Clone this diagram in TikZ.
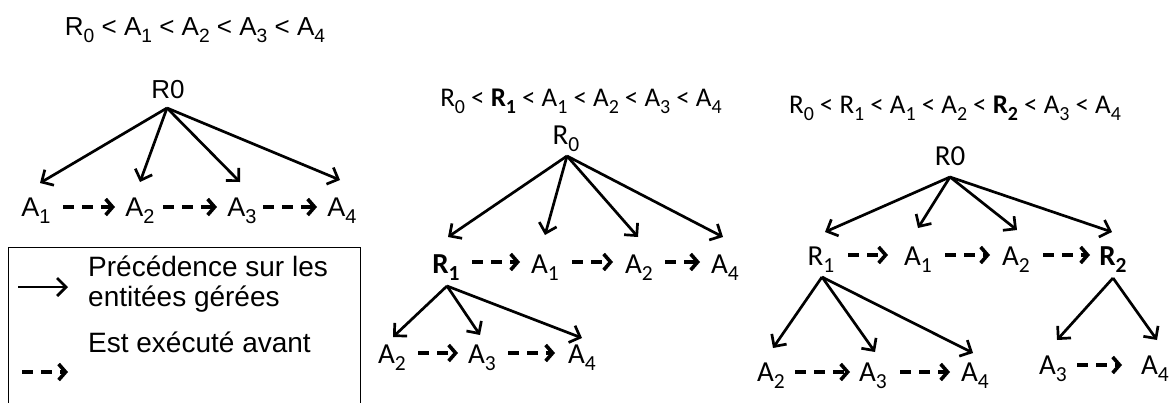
\documentclass[tikz,border=0pt]{standalone}
\usepackage{graphicx}
\usepackage{fontspec}
\setmainfont{Liberation Sans}
\newfontfamily\calfont{Carlito}
\usetikzlibrary{arrows.meta}
\tikzset{
  prec/.style={line width=2.7pt, -{Straight Barb[length=9pt,width=18pt]}},
  exec/.style={line width=3.6pt, dash pattern=on 11pt off 8pt, -{Straight Barb[length=7pt,width=16pt]}},
  ar/.style={font=\fontsize{27}{27}\selectfont, inner sep=0pt, anchor=base},
  cb/.style={font=\calfont\fontsize{29}{29}\selectfont, inner sep=0pt, anchor=base},
  legtext/.style={font=\fontsize{28}{28}\selectfont, inner sep=0pt, anchor=base west},
}
\newcommand\ssb[1]{\raisebox{-0.27em}{\scalebox{0.74}{#1}}}
\begin{document}
\begin{tikzpicture}[x=1pt,y=-1pt]
\useasboundingbox (0,0) rectangle (1169,402);
% ---------------- left ----------------
\node[ar, font=\fontsize{26}{26}\selectfont] (t1) at (195,35) {R\ssb{0} < A\ssb{1} < A\ssb{2} < A\ssb{3} < A\ssb{4}};
\node[ar, font=\fontsize{26}{26}\selectfont] (l0) at (168,98) {R0};
\node[ar] (la1) at (36,216) {A\ssb{1}};
\node[ar] (la2) at (140,216) {A\ssb{2}};
\node[ar] (la3) at (242,216) {A\ssb{3}};
\node[ar] (la4) at (342,216) {A\ssb{4}};
\draw[prec] ([xshift=-1pt,yshift=-10pt]l0.base) -- ([xshift=4pt,yshift=33pt]la1.base);
\draw[prec] ([xshift=-1pt,yshift=-10pt]l0.base) -- ([xshift=0pt,yshift=34pt]la2.base);
\draw[prec] ([xshift=-1pt,yshift=-10pt]l0.base) -- ([xshift=-2pt,yshift=34pt]la3.base);
\draw[prec] ([xshift=-1pt,yshift=-10pt]l0.base) -- ([xshift=-2pt,yshift=36pt]la4.base);
\draw[exec] ([xshift=27pt,yshift=9pt]la1.base) -- ([xshift=-25pt,yshift=9pt]la2.base);
\draw[exec] ([xshift=23pt,yshift=9pt]la2.base) -- ([xshift=-25pt,yshift=9pt]la3.base);
\draw[exec] ([xshift=21pt,yshift=9pt]la3.base) -- ([xshift=-25pt,yshift=9pt]la4.base);
% ---------------- legend ----------------
\node[draw, line width=1pt, anchor=north west, minimum width=352pt, minimum height=170pt, inner sep=0pt] (leg) at (8,247) {};
\node[legtext] (lt1) at (88,276) {Précédence sur les};
\node[legtext] (lt2) at (88,306) {entitées gérées};
\node[legtext] (lt3) at (88,352) {Est exécuté avant};
\coordinate (ls1) at (18,287);
\coordinate (le1) at (68,287);
\coordinate (ls2) at (22,372);
\coordinate (le2) at (68,372);
\draw[prec] (ls1) -- (le1);
\draw[exec] (ls2) -- (le2);
% ---------------- middle ----------------
\node[cb, font=\calfont\fontsize{27}{27}\selectfont] (mt) at (581,106) {R\ssb{0} < \textbf{R\ssb{1}} < A\ssb{1} < A\ssb{2} < A\ssb{3} < A\ssb{4}};
\node[cb] (m0) at (566,144) {R\ssb{0}};
\node[cb] (mR1) at (446,273) {\textbf{R\ssb{1}}};
\node[cb] (mA1) at (545,273) {A\ssb{1}};
\node[cb] (mA2) at (639,273) {A\ssb{2}};
\node[cb] (mA4) at (725,273) {A\ssb{4}};
\draw[prec] ([xshift=1pt,yshift=-12pt]m0.base) -- ([xshift=2pt,yshift=36pt]mR1.base);
\draw[prec] ([xshift=1pt,yshift=-12pt]m0.base) -- ([xshift=0pt,yshift=38pt]mA1.base);
\draw[prec] ([xshift=1pt,yshift=-12pt]m0.base) -- ([xshift=-1pt,yshift=36pt]mA2.base);
\draw[prec] ([xshift=1pt,yshift=-12pt]m0.base) -- ([xshift=-2pt,yshift=36pt]mA4.base);
\draw[exec] ([xshift=26pt,yshift=11pt]mR1.base) -- ([xshift=-25pt,yshift=11pt]mA1.base);
\draw[exec] ([xshift=27pt,yshift=11pt]mA1.base) -- ([xshift=-26pt,yshift=11pt]mA2.base);
\draw[exec] ([xshift=26pt,yshift=11pt]mA2.base) -- ([xshift=-25pt,yshift=11pt]mA4.base);
\node[cb] (mbA2) at (392,363) {A\ssb{2}};
\node[cb] (mbA3) at (482,363) {A\ssb{3}};
\node[cb] (mbA4) at (582,363) {A\ssb{4}};
\draw[prec] ([xshift=1pt,yshift=-13pt]mR1.base) -- ([xshift=1pt,yshift=26pt]mbA2.base);
\draw[prec] ([xshift=1pt,yshift=-13pt]mR1.base) -- ([xshift=-2pt,yshift=28pt]mbA3.base);
\draw[prec] ([xshift=1pt,yshift=-13pt]mR1.base) -- ([xshift=0pt,yshift=25pt]mbA4.base);
\draw[exec] ([xshift=26pt,yshift=10pt]mbA2.base) -- ([xshift=-24pt,yshift=10pt]mbA3.base);
\draw[exec] ([xshift=26pt,yshift=10pt]mbA3.base) -- ([xshift=-27pt,yshift=10pt]mbA4.base);
% ---------------- right ----------------
\node[cb, font=\calfont\fontsize{27}{27}\selectfont] (rt) at (955,113) {R\ssb{0} < R\ssb{1} < A\ssb{1} < A\ssb{2} < \textbf{R\ssb{2}} < A\ssb{3} < A\ssb{4}};
\node[cb] (r0) at (950,165) {R0};
\node[cb] (rR1) at (821,265) {R\ssb{1}};
\node[cb] (rA1) at (918,265) {A\ssb{1}};
\node[cb] (rA2) at (1016,265) {A\ssb{2}};
\node[cb] (rR2) at (1113,265) {\textbf{R\ssb{2}}};
\draw[prec] ([yshift=-12pt]r0.base) -- ([xshift=4pt,yshift=33pt]rR1.base);
\draw[prec] ([yshift=-12pt]r0.base) -- ([xshift=0pt,yshift=37pt]rA1.base);
\draw[prec] ([yshift=-12pt]r0.base) -- ([xshift=1pt,yshift=35pt]rA2.base);
\draw[prec] ([yshift=-12pt]r0.base) -- ([xshift=-1pt,yshift=33pt]rR2.base);
\draw[exec] ([xshift=27pt,yshift=10pt]rR1.base) -- ([xshift=-30pt,yshift=10pt]rA1.base);
\draw[exec] ([xshift=27pt,yshift=10pt]rA1.base) -- ([xshift=-26pt,yshift=10pt]rA2.base);
\draw[exec] ([xshift=27pt,yshift=10pt]rA2.base) -- ([xshift=-23pt,yshift=10pt]rR2.base);
\node[cb] (rbA2) at (771,381) {A\ssb{2}};
\node[cb] (rbA3) at (873,381) {A\ssb{3}};
\node[cb] (rbA4) at (975,381) {A\ssb{4}};
\node[cb] (rcA3) at (1053,374) {A\ssb{3}};
\node[cb] (rcA4) at (1155,374) {A\ssb{4}};
\draw[prec] ([xshift=1pt,yshift=-12pt]rR1.base) -- ([xshift=2pt,yshift=33pt]rbA2.base);
\draw[prec] ([xshift=1pt,yshift=-12pt]rR1.base) -- ([xshift=2pt,yshift=29pt]rbA3.base);
\draw[prec] ([xshift=1pt,yshift=-12pt]rR1.base) -- ([xshift=-2pt,yshift=28pt]rbA4.base);
\draw[prec] ([yshift=-13pt]rR2.base) -- ([xshift=4pt,yshift=34pt]rcA3.base);
\draw[prec] ([yshift=-13pt]rR2.base) -- ([xshift=2pt,yshift=34pt]rcA4.base);
\draw[exec] ([xshift=24pt,yshift=9pt]rbA2.base) -- ([xshift=-23pt,yshift=9pt]rbA3.base);
\draw[exec] ([xshift=27pt,yshift=9pt]rbA3.base) -- ([xshift=-25pt,yshift=9pt]rbA4.base);
\draw[exec] ([xshift=24pt,yshift=9pt]rcA3.base) -- ([xshift=-33pt,yshift=9pt]rcA4.base);
\end{tikzpicture}
\end{document}
